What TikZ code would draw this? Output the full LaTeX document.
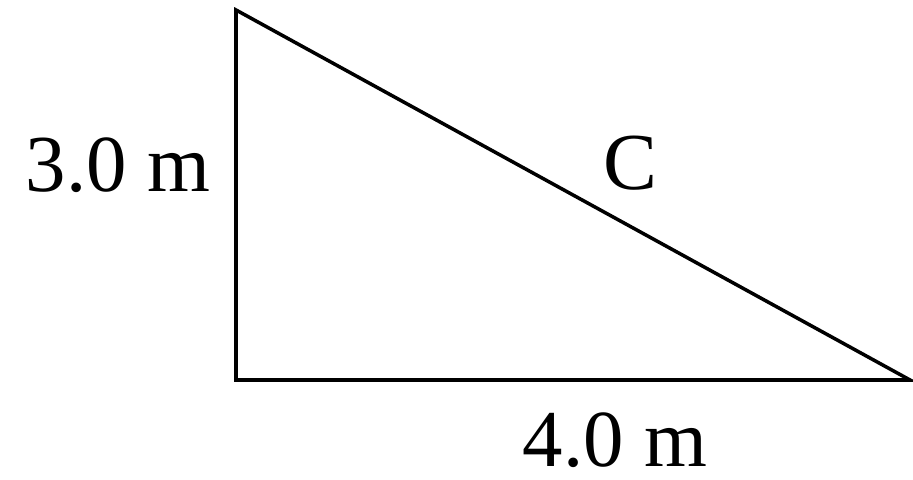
\documentclass[tikz,border=0pt]{standalone}
\usepackage{fontspec}
\setmainfont{Liberation Serif}
\usepackage{tikz}
\usetikzlibrary{calc}
\usetikzlibrary{positioning}

\begin{document}
\begin{tikzpicture}[
			side/.style={draw=black, line width=1pt, line join=miter},
			lbl/.style={font=\fontsize{23}{27}\selectfont, text=black, inner sep=0pt},
			]
			\useasboundingbox (0,0) rectangle (9.13,4.80);
			\coordinate (top) at (2.36,4.70);
			\coordinate (corner) at (2.36,1.00);
			\coordinate (right) at (9.10,1.00);
			\draw[side] (top) -- (corner) -- (right) -- cycle;
			\node[lbl] (height) at (1.18,3.15) {3.0 m};
			\node[lbl] (hyp) at (6.30,3.17) {C};
			\node[lbl] (base) at (6.15,0.40) {4.0 m};
		\end{tikzpicture}
\end{document}
